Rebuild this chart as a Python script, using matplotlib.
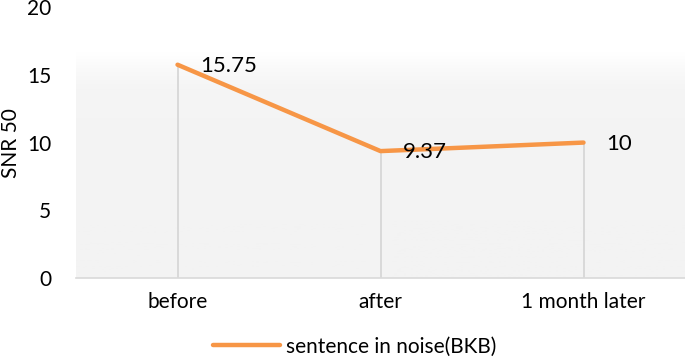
import numpy as np
import matplotlib
matplotlib.use('Agg')
import matplotlib.pyplot as plt
from matplotlib.colors import LinearSegmentedColormap

# Daten
categories = ['before', 'after', '1 month later']
snr_values = [15.75, 9.37, 10]
value_labels = ['15.75', '9.37', '10']
series_name = 'sentence in noise(BKB)'
y_ticks = [0, 5, 10, 15, 20]

plt.rcParams['font.family'] = ['Lato', 'DejaVu Sans']

fig = plt.figure(figsize=(6.85, 3.58), dpi=100)
ax = fig.add_axes([0.111, 0.2235, 0.889, 0.7565])

x = np.arange(len(categories))
ax.set_xlim(-0.5, len(categories) - 0.5)
ax.set_ylim(0, 20)

# Hintergrund-Verlauf (oben weiss, unten hellgrau)
cmap = LinearSegmentedColormap.from_list('bg', ['#f3f3f3', '#f5f5f5', '#ffffff'])
grad = np.linspace(0, 1, 256).reshape(-1, 1)
grad = np.clip(grad * 1.2, 0, 1) ** 4
ax.imshow(grad, cmap=cmap, aspect='auto', origin='lower',
          extent=(-0.5, len(categories) - 0.5, 0, 20), zorder=0, vmin=0, vmax=1)

# Falllinien
ax.vlines(x, 0, snr_values, colors='#d4d4d4', linewidth=1.2, zorder=1)

ax.plot(x, snr_values, color='#F79646', linewidth=3.2, solid_capstyle='round',
        label=series_name, zorder=3)

for xi, yi, lab in zip(x, snr_values, value_labels):
    ax.annotate(lab, (xi, yi), xytext=(16, -1), textcoords='offset points',
                ha='left', va='center', fontsize=16, color='black', zorder=4)

ax.set_xticks(x)
ax.set_xticklabels(categories, fontsize=15)
ax.set_yticks(y_ticks)
ax.set_yticklabels([str(t) for t in y_ticks], fontsize=15)
ax.tick_params(axis='both', length=0)
ax.tick_params(axis='x', pad=10)
ax.tick_params(axis='y', pad=18)
ax.set_ylabel('SNR 50', fontsize=15)
ax.yaxis.set_label_coords(-0.091, 0.5)

for side in ['top', 'right', 'left']:
    ax.spines[side].set_visible(False)
ax.spines['bottom'].set_color('#d9d9d9')
ax.spines['bottom'].set_linewidth(1.2)

fig.legend(loc='center', bbox_to_anchor=(0.518, 0.032), frameon=False,
           fontsize=15, handlelength=3.2, handletextpad=0.3)

fig.savefig('out.png', dpi=100)
